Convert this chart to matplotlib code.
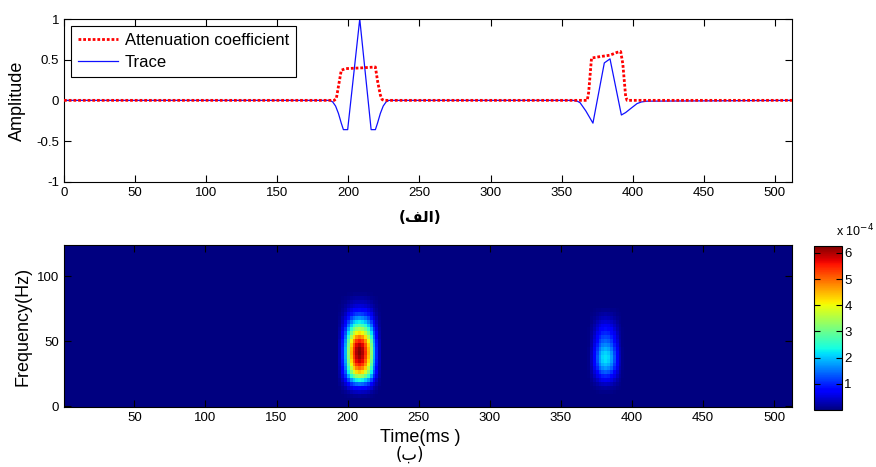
import numpy as np
import matplotlib
matplotlib.use("Agg")
import matplotlib.pyplot as plt

plt.rcParams['font.family'] = ['Liberation Sans', 'DejaVu Sans']

# ---------------- data ----------------
# top panel: trace (time ms, amplitude)
trace_t = [0, 187, 189, 191, 193, 195, 196.5, 199.5, 208, 216, 219, 220.5, 222.5, 224.5, 226.5, 228.5,
           358, 361, 363, 367, 372, 380, 384, 392, 395, 398.6, 403, 406, 410, 512]
trace_a = [0, 0, -0.02, -0.07, -0.16, -0.28, -0.36, -0.36, 1.0, -0.36, -0.36, -0.28, -0.16, -0.07, -0.02, 0,
           0, -0.01, -0.03, -0.13, -0.28, 0.46, 0.51, -0.18, -0.15, -0.10, -0.04, -0.02, -0.01, 0]

# top panel: attenuation coefficient
att_t = [0, 190, 191.5, 195, 198, 210, 219, 220.6, 222.5, 223.7, 225,
         368, 369, 371, 376, 384, 389, 391.5, 393, 395, 396, 512]
att_a = [0, 0, 0.02, 0.37, 0.39, 0.40, 0.41, 0.23, 0.065, 0.01, 0,
         0, 0.1, 0.52, 0.535, 0.555, 0.59, 0.60, 0.45, 0.05, 0, 0]

# bottom panel: time-frequency energy, two events
# event 1 (peak 6.26e-4 at ~208.5 ms, ~41 Hz)
ev1_peak = 6.26e-4
ev1_time = [194.5, 196.5, 198.5, 200.5, 202.5, 204.5, 206.5, 208.5, 210.5, 212.5, 214.5, 216.5, 218.5, 220.5, 222.5]
ev1_tprof = [0.05, 0.16, 0.30, 0.52, 0.72, 0.86, 0.96, 1.0, 0.96, 0.86, 0.72, 0.52, 0.30, 0.16, 0.05]
ev1_freq = [8, 11, 14, 17, 20, 23, 26, 29, 32, 35, 38, 41, 44, 47, 50, 53, 56, 59, 62, 65, 68, 71, 74, 77, 80, 83, 86]
ev1_fprof = [0.02, 0.06, 0.13, 0.24, 0.38, 0.55, 0.70, 0.80, 0.88, 0.94, 0.98, 1.0, 0.99, 0.95, 0.88, 0.78,
             0.67, 0.56, 0.45, 0.36, 0.27, 0.19, 0.13, 0.08, 0.05, 0.03, 0.01]
# event 2 (peak ~2.2e-4 at ~381.5 ms, ~38 Hz)
ev2_peak = 2.2e-4
ev2_time = [369.5, 371.5, 373.5, 375.5, 377.5, 379.5, 381.5, 383.5, 385.5, 387.5, 389.5, 391.5, 393.5]
ev2_tprof = [0.03, 0.15, 0.35, 0.58, 0.80, 0.95, 1.0, 0.95, 0.80, 0.58, 0.35, 0.15, 0.03]
ev2_freq = [11, 14, 17, 20, 23, 26, 29, 32, 35, 38, 41, 44, 47, 50, 53, 56, 59, 62, 65, 68, 71, 74]
ev2_fprof = [0.03, 0.08, 0.17, 0.30, 0.45, 0.62, 0.78, 0.90, 0.98, 1.0, 0.95, 0.85, 0.74, 0.64, 0.55,
             0.46, 0.38, 0.30, 0.22, 0.15, 0.09, 0.04]

x_ticks = [0, 50, 100, 150, 200, 250, 300, 350, 400, 450, 500]
amp_ticks = [-1, -0.5, 0, 0.5, 1]
amp_labels = ['-1', '-0.5', '0', '0.5', '1']
freq_ticks = [0, 50, 100]
cbar_ticks = [1, 2, 3, 4, 5, 6]

# ---------------- figure ----------------
W, H = 876, 467
fig = plt.figure(figsize=(W / 100, H / 100), dpi=100)

def fr(x0, y0, x1, y1):
    return [x0 / W, 1 - y1 / H, (x1 - x0) / W, (y1 - y0) / H]

ax1 = fig.add_axes(fr(64, 19, 792, 181.7))
ax2 = fig.add_axes(fr(64, 245, 792, 407.3))
cax = fig.add_axes(fr(813.5, 246, 841.5, 410))

for ax in (ax1, ax2, cax):
    for s in ax.spines.values():
        s.set_linewidth(0.8)
        s.set_color('black')

tick_kw = dict(direction='in', top=True, right=True, length=5, width=0.8, labelsize=9.5)

# top panel
ax1.plot(att_t, att_a, color='red', lw=2.0, dashes=(1, 0.7), label='Attenuation coefficient', zorder=3)
ax1.plot(trace_t, trace_a, color='#1010ff', lw=0.9, label='Trace', zorder=2)
ax1.set_xlim(0, 512)
ax1.set_ylim(-1, 1)
ax1.set_xticks(x_ticks)
ax1.set_yticks(amp_ticks)
ax1.set_yticklabels(amp_labels)
ax1.tick_params(**tick_kw)
ax1.set_ylabel('Amplitude', fontsize=13)
ax1.yaxis.set_label_coords(-0.052, 0.5)
leg = ax1.legend(loc='upper left', bbox_to_anchor=(0.0095, 0.955), fontsize=12, frameon=True,
                 fancybox=False, edgecolor='black', framealpha=1, handlelength=2.4,
                 borderpad=0.4, labelspacing=0.42, handletextpad=0.45, borderaxespad=0)
leg.get_frame().set_linewidth(0.8)

# bottom panel
cmap = plt.get_cmap('jet')
ax2.set_facecolor(cmap(0.0))

def edges(c):
    c = np.asarray(c, float)
    d = np.diff(c)
    return np.concatenate([[c[0] - d[0] / 2], c[:-1] + d / 2, [c[-1] + d[-1] / 2]])

Z1 = ev1_peak * np.outer(ev1_fprof, ev1_tprof)
Z2 = ev2_peak * np.outer(ev2_fprof, ev2_tprof)
m = ax2.pcolormesh(edges(ev1_time), edges(ev1_freq), Z1, cmap=cmap, vmin=0, vmax=ev1_peak, shading='flat')
ax2.pcolormesh(edges(ev2_time), edges(ev2_freq), Z2, cmap=cmap, vmin=0, vmax=ev1_peak, shading='flat')
ax2.set_xlim(0.5, 512.5)
ax2.set_ylim(-0.98, 124.0)
ax2.set_xticks(x_ticks[1:])
ax2.set_yticks(freq_ticks)
ax2.tick_params(**tick_kw)
ax2.set_ylabel('Frequency(Hz)', fontsize=13)
ax2.yaxis.set_label_coords(-0.044, 0.5)
ax2.set_xlabel('Time(ms )', fontsize=13)
ax2.xaxis.set_label_coords(0.49, -0.135)

cb = fig.colorbar(m, cax=cax)
cb.set_ticks([v * 1e-4 for v in cbar_ticks])
cb.set_ticklabels([str(v) for v in cbar_ticks])
cax.tick_params(direction='in', left=True, right=True, length=4, width=0.8, labelsize=9.5, pad=2)
cb.outline.set_linewidth(0.8)
fig.text(836 / W, 1 - 231 / H, r'x 10$^{-4}$', fontsize=9, ha='left', va='center')

# panel captions (Arabic, shaped presentation forms in visual order)
fig.text(420 / W, 1 - 218 / H, '(\uFED2\uFEDF\uFE8D)', fontsize=11, ha='center', va='center',
         family=['DejaVu Sans'], fontweight='bold')
fig.text(410 / W, 1 - 455 / H, '(\uFE8F)', fontsize=12, ha='center', va='center', family=['DejaVu Sans'])

fig.savefig('out.png', dpi=100)
